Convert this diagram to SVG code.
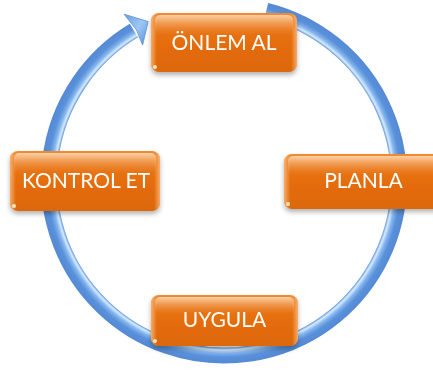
<svg xmlns="http://www.w3.org/2000/svg" width="433" height="374" viewBox="0 0 433 374">
  <defs>
    <style>
      .label { font-family: Lato, "Open Sans", "Liberation Sans", sans-serif; font-size: 21px; fill: #ffffff; text-anchor: middle; }
      .box { fill: url(#boxFill); }
      .bevel { fill: url(#sideBevel); }
      .gloss { fill: url(#glossFill); }
      .glare { fill: #fff1c8; opacity: 0.9; }
      .ring { fill: none; stroke: url(#ringFill); stroke-width: 16; }
    </style>
    <linearGradient id="boxFill" x1="0" y1="0" x2="0" y2="1">
      <stop offset="0" stop-color="#f08c35"/>
      <stop offset="0.18" stop-color="#e8771a"/>
      <stop offset="0.55" stop-color="#e46c0a"/>
      <stop offset="1" stop-color="#dc680c"/>
    </linearGradient>
    <linearGradient id="sideBevel" x1="0" y1="0" x2="1" y2="0">
      <stop offset="0" stop-color="#ffc890" stop-opacity="0.7"/>
      <stop offset="0.04" stop-color="#ffc890" stop-opacity="0"/>
      <stop offset="0.96" stop-color="#ffc890" stop-opacity="0"/>
      <stop offset="1" stop-color="#ffc890" stop-opacity="0.7"/>
    </linearGradient>
    <linearGradient id="glossFill" x1="0" y1="0" x2="0" y2="1">
      <stop offset="0" stop-color="#ffe2c4" stop-opacity="0.8"/>
      <stop offset="1" stop-color="#f59a4a" stop-opacity="0"/>
    </linearGradient>
    <radialGradient id="ringFill" gradientUnits="userSpaceOnUse" cx="224" cy="180.5" r="183">
      <stop offset="0.912" stop-color="#5c93dc"/>
      <stop offset="0.925" stop-color="#d6ebff"/>
      <stop offset="0.942" stop-color="#86b6ee"/>
      <stop offset="0.965" stop-color="#5a91db"/>
      <stop offset="1" stop-color="#5489d4"/>
    </radialGradient>
    <linearGradient id="headFill" x1="0" y1="0" x2="1" y2="1">
      <stop offset="0" stop-color="#6a9fe4"/>
      <stop offset="0.5" stop-color="#9cc6f4"/>
      <stop offset="1" stop-color="#5a90da"/>
    </linearGradient>
    <filter id="shadow" x="-10%" y="-10%" width="120%" height="140%">
      <feDropShadow dx="0" dy="3" stdDeviation="2.5" flood-color="#000000" flood-opacity="0.3"/>
    </filter>
  </defs>

  <!-- circular arrow running clockwise behind the steps -->
  <g id="connectors">
    <path class="ring" d="M 266.3 10.7 A 175 175 0 1 1 133.9 30.5"/>
    <polygon points="124.1,14.2 148.2,21.6 142.6,45.1 136.5,30" fill="url(#headFill)" stroke="#5a90da" stroke-width="0.8"/>
  </g>

  <g id="node-onlem" filter="url(#shadow)">
    <rect class="box" x="151" y="13" width="146" height="59" rx="8"/>
    <rect class="bevel" x="151" y="13" width="146" height="59" rx="8"/>
    <rect class="gloss" x="155" y="15" width="138" height="20" rx="5"/>
    <circle class="glare" cx="155" cy="67" r="2"/>
    <text class="label" x="224" y="50">ÖNLEM AL</text>
  </g>

  <g id="node-kontrol" filter="url(#shadow)">
    <rect class="box" x="10" y="151" width="150" height="60" rx="8"/>
    <rect class="bevel" x="10" y="151" width="150" height="60" rx="8"/>
    <rect class="gloss" x="14" y="153" width="142" height="20" rx="5"/>
    <circle class="glare" cx="14" cy="206" r="2"/>
    <text class="label" x="86" y="188">KONTROL ET</text>
  </g>

  <g id="node-planla" filter="url(#shadow)">
    <rect class="box" x="284" y="154" width="160" height="55" rx="8"/>
    <rect class="bevel" x="284" y="154" width="160" height="55" rx="8"/>
    <rect class="gloss" x="288" y="156" width="152" height="19" rx="5"/>
    <circle class="glare" cx="288" cy="204" r="2"/>
    <text class="label" x="363.5" y="188">PLANLA</text>
  </g>

  <g id="node-uygula" filter="url(#shadow)">
    <rect class="box" x="151" y="295" width="147" height="51" rx="8"/>
    <rect class="bevel" x="151" y="295" width="147" height="51" rx="8"/>
    <rect class="gloss" x="155" y="297" width="139" height="17" rx="5"/>
    <circle class="glare" cx="155" cy="341" r="2"/>
    <text class="label" x="224.5" y="327">UYGULA</text>
  </g>
</svg>
